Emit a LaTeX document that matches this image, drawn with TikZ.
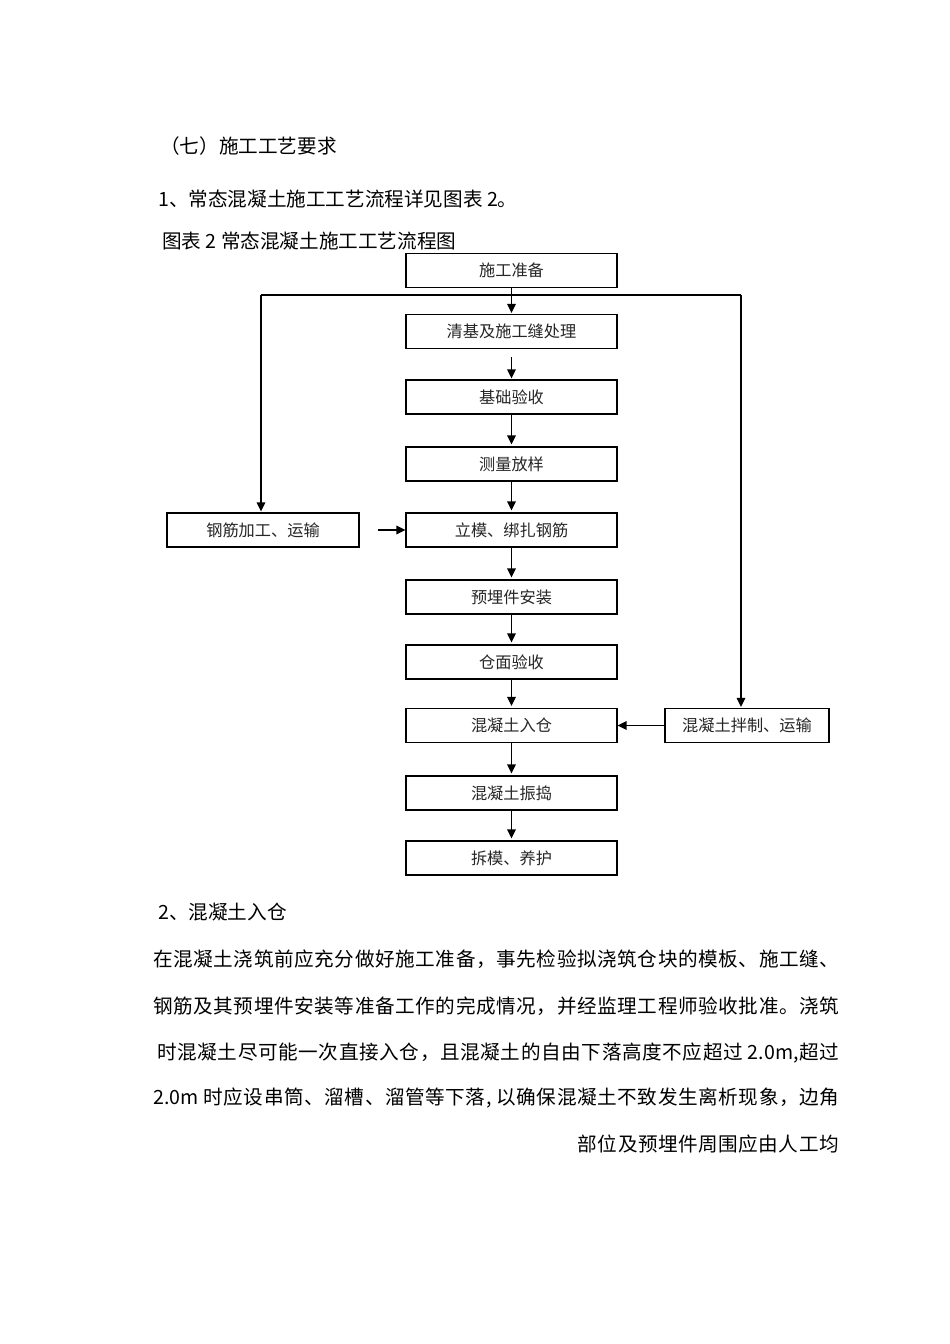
\documentclass[tikz,border=0pt]{standalone}
\usepackage{fontspec}
\setmainfont{Noto Sans CJK SC}
\usetikzlibrary{arrows.meta}
\ExplSyntaxOn
\NewDocumentCommand\spreadline{mm}
  {\makebox[#1][s]{\tl_map_inline:nn {#2} {##1\hskip 0pt plus 1fil\relax}\unskip}}
\ExplSyntaxOff
\begin{document}
\begin{tikzpicture}[x=1pt,y=-1pt,
  box/.style={draw=black,line width=1.1pt,minimum height=34pt,inner sep=0pt,
    font=\fontsize{16.2}{18}\selectfont,text=black!85},
  mainbox/.style={box,minimum width=211pt},
  arr/.style={line width=1.3pt,-{Triangle[length=9pt,width=8.5pt]}},
  ln/.style={line width=1.3pt},
  body/.style={inner sep=0pt,font=\fontsize{19.6}{24}\selectfont,anchor=west}]
\useasboundingbox[fill=white] (0,0) rectangle (950,1344);

% headings and text
\node[body] (h7) at (160,146) {（七）施工工艺要求};
\node[body] (h1) at (158,199) {1、常态混凝土施工工艺流程详见图表 2。};
\node[body] (cap) at (162,241) {图表 2 常态混凝土施工工艺流程图};
\node[body] (h2) at (158,912) {2、混凝土入仓};
\node[body] (p1) at (153,959) {\spreadline{686pt}{在混凝土浇筑前应充分做好施工准备，事先检验拟浇筑仓块的模板、施工缝、}};
\node[body] (p2) at (153,1006) {\spreadline{686pt}{钢筋及其预埋件安装等准备工作的完成情况，并经监理工程师验收批准。浇筑}};
\node[body] (p3) at (157,1053) {\spreadline{682pt}{时混凝土尽可能一次直接入仓，且混凝土的自由下落高度不应超过{~2.0m,}超过}};
\node[body] (p4) at (153,1098) {\spreadline{686pt}{{2.0m~}时应设串筒、溜槽、溜管等下落{,~}以确保混凝土不致发生离析现象，边角}};
\node[body,anchor=east] (p5) at (839,1144) {\spreadline{261pt}{部位及预埋件周围应由人工均}};

% main column
\node[mainbox] (prep) at (511.5,270.5) {施工准备};
\node[mainbox] (clean) at (511.5,331.5) {清基及施工缝处理};
\node[mainbox] (found) at (511.5,397) {基础验收};
\node[mainbox] (survey) at (511.5,464) {测量放样};
\node[mainbox] (form) at (511.5,530) {立模、绑扎钢筋};
\node[mainbox] (embed) at (511.5,597) {预埋件安装};
\node[mainbox] (insp) at (511.5,662) {仓面验收};
\node[mainbox] (pour) at (511.5,725.5) {混凝土入仓};
\node[mainbox] (vib) at (511.5,793) {混凝土振捣};
\node[mainbox] (strip) at (511.5,858) {拆模、养护};

% side boxes
\node[box,minimum width=192pt] (rebar) at (263,530) {钢筋加工、运输};
\node[box,minimum width=164pt] (mix) at (747,725.5) {混凝土拌制、运输};

% junction line
\coordinate (jl) at (261,295);
\coordinate (jr) at (741,295);
\draw[ln] (jl) -- (jr);
\draw[arr,shorten >=1pt] (jl) -- (jl |- rebar.north);
\draw[arr,shorten >=1pt] (jr) -- (jr |- mix.north);

% main arrows
\draw[arr,shorten >=1pt] (prep) -- (clean);
\draw[arr,shorten <=8pt,shorten >=1pt] (clean) -- (found);
\draw[arr,shorten >=2pt] (found) -- (survey);
\draw[arr,shorten >=2pt] (survey) -- (form);
\draw[arr,shorten >=2pt] (form) -- (embed);
\draw[arr,shorten >=2pt] (embed) -- (insp);
\draw[arr,shorten >=2pt] (insp) -- (pour);
\draw[arr,shorten >=2pt] (pour) -- (vib);
\draw[arr,shorten >=2pt] (vib) -- (strip);

% side arrows
\draw[arr,shorten <=18pt] (rebar) -- (form);
\draw[arr] (mix) -- (pour);
\end{tikzpicture}
\end{document}
